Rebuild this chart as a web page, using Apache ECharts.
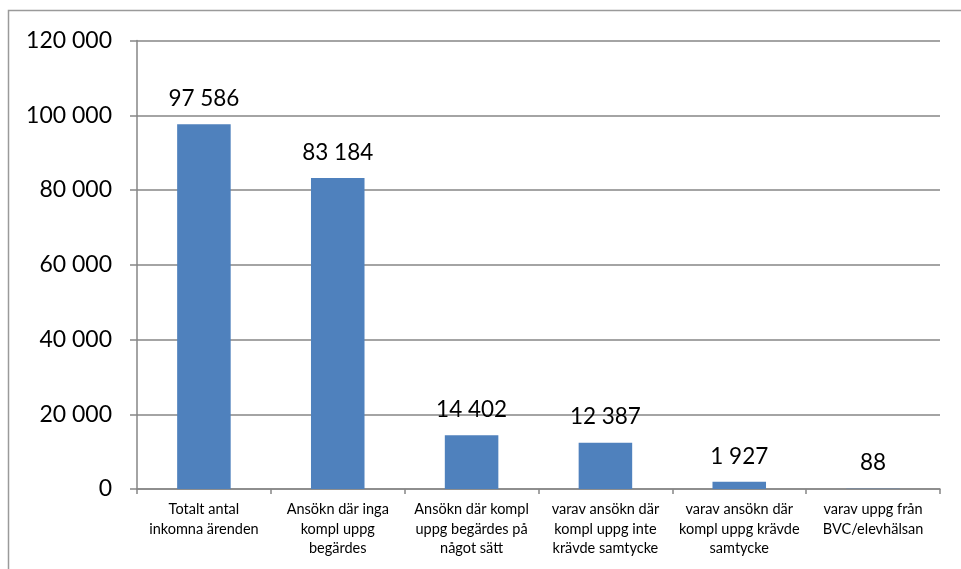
<!DOCTYPE html>
<html>
<head>
<meta charset="utf-8">
<script src="https://cdn.jsdelivr.net/npm/echarts@6/dist/echarts.min.js"></script>
<style>
  html, body { margin: 0; padding: 0; background: #fff; }
  #chart { width: 961px; height: 569px; }
</style>
</head>
<body>
<div id="chart"></div>
<script>
// Ärenden per kategori
const categories = [
  'Totalt antal\ninkomna ärenden',
  'Ansökn där inga\nkompl uppg\nbegärdes',
  'Ansökn där kompl\nuppg begärdes på\nnågot sätt',
  'varav ansökn där\nkompl uppg inte\nkrävde samtycke',
  'varav ansökn där\nkompl uppg krävde\nsamtycke',
  'varav uppg från\nBVC/elevhälsan'
];
const values = [97586, 83184, 14402, 12387, 1927, 88];
const yTicks = { min: 0, max: 120000, interval: 20000 };

// Tusentalsavgränsare med mellanslag
function fmt(v) {
  return String(Math.round(v)).replace(/\B(?=(\d{3})+(?!\d))/g, ' ');
}

const FONT = 'Lato, "Open Sans", sans-serif';
const GRID_COLOR = '#868686';

const chart = echarts.init(document.getElementById('chart'), null, { renderer: 'canvas' });
chart.setOption({
  animation: false,
  backgroundColor: '#fff',
  textStyle: { fontFamily: FONT },
  graphic: [{
    type: 'rect',
    shape: { x: 8.5, y: 10.5, width: 1000, height: 600 },
    style: { fill: 'none', stroke: '#9a9a9a', lineWidth: 1.5 },
    silent: true,
    z: -1
  }],
  grid: { left: 137, right: 21, top: 40.5, bottom: 80, containLabel: false },
  xAxis: {
    type: 'category',
    data: categories,
    axisLine: { show: true, lineStyle: { color: GRID_COLOR, width: 1.5 } },
    axisTick: { show: true, alignWithLabel: false, length: 5, lineStyle: { color: GRID_COLOR, width: 1.5 } },
    axisLabel: {
      interval: 0,
      color: '#000',
      fontFamily: FONT,
      fontSize: 14.5,
      lineHeight: 19.5,
      margin: 11
    },
    splitLine: { show: false }
  },
  yAxis: {
    type: 'value',
    min: yTicks.min,
    max: yTicks.max,
    interval: yTicks.interval,
    axisLine: { show: true, lineStyle: { color: GRID_COLOR, width: 1.5 } },
    axisTick: { show: true, length: 7, lineStyle: { color: GRID_COLOR, width: 1.5 } },
    axisLabel: {
      color: '#000',
      fontFamily: FONT,
      fontSize: 23,
      margin: 25,
      formatter: fmt
    },
    splitLine: { show: true, lineStyle: { color: GRID_COLOR, width: 1.5 } }
  },
  series: [{
    type: 'bar',
    data: values,
    barWidth: '40%',
    itemStyle: { color: '#4F81BD' },
    label: {
      show: true,
      position: 'top',
      distance: 14,
      color: '#000',
      fontFamily: FONT,
      fontSize: 22.5,
      formatter: p => fmt(p.value)
    }
  }]
});
</script>
</body>
</html>
